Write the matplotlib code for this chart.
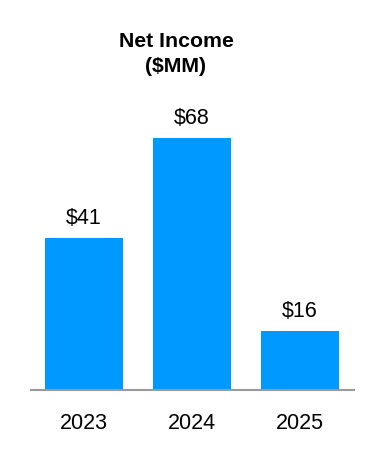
import matplotlib
matplotlib.use("Agg")
import matplotlib.pyplot as plt

years = ["2023", "2024", "2025"]
net_income = [41, 68, 16]
value_labels = ["$41", "$68", "$16"]

plt.rcParams["font.family"] = ["Liberation Sans", "DejaVu Sans"]

fig = plt.figure(figsize=(3.84, 4.60), dpi=100)
ax = fig.add_axes([31 / 384, 69 / 460, 323 / 384, 297 / 460])

x = range(len(years))
bars = ax.bar(x, net_income, width=0.72, color="#0099FF")
ax.set_xlim(-0.49, 2.5)
ax.set_ylim(0, 80)

for rect, lab in zip(bars, value_labels):
    ax.annotate(lab, (rect.get_x() + rect.get_width() / 2, rect.get_height()),
                xytext=(0, 7), textcoords="offset points",
                ha="center", va="bottom", fontsize=15.5)

ax.set_xticks(list(x))
ax.set_xticklabels(years, fontsize=15.5)
ax.tick_params(axis="x", length=0, pad=16)
ax.set_yticks([])
for side in ["top", "right", "left"]:
    ax.spines[side].set_visible(False)
ax.spines["bottom"].set_color("#999999")
ax.spines["bottom"].set_linewidth(1.5)

fig.text(176 / 384, 1 - 54 / 460, "Net Income\n($MM)", ha="center", va="center",
         fontsize=15.3, fontweight="bold", linespacing=1.45)

fig.savefig("out.png", dpi=100)
